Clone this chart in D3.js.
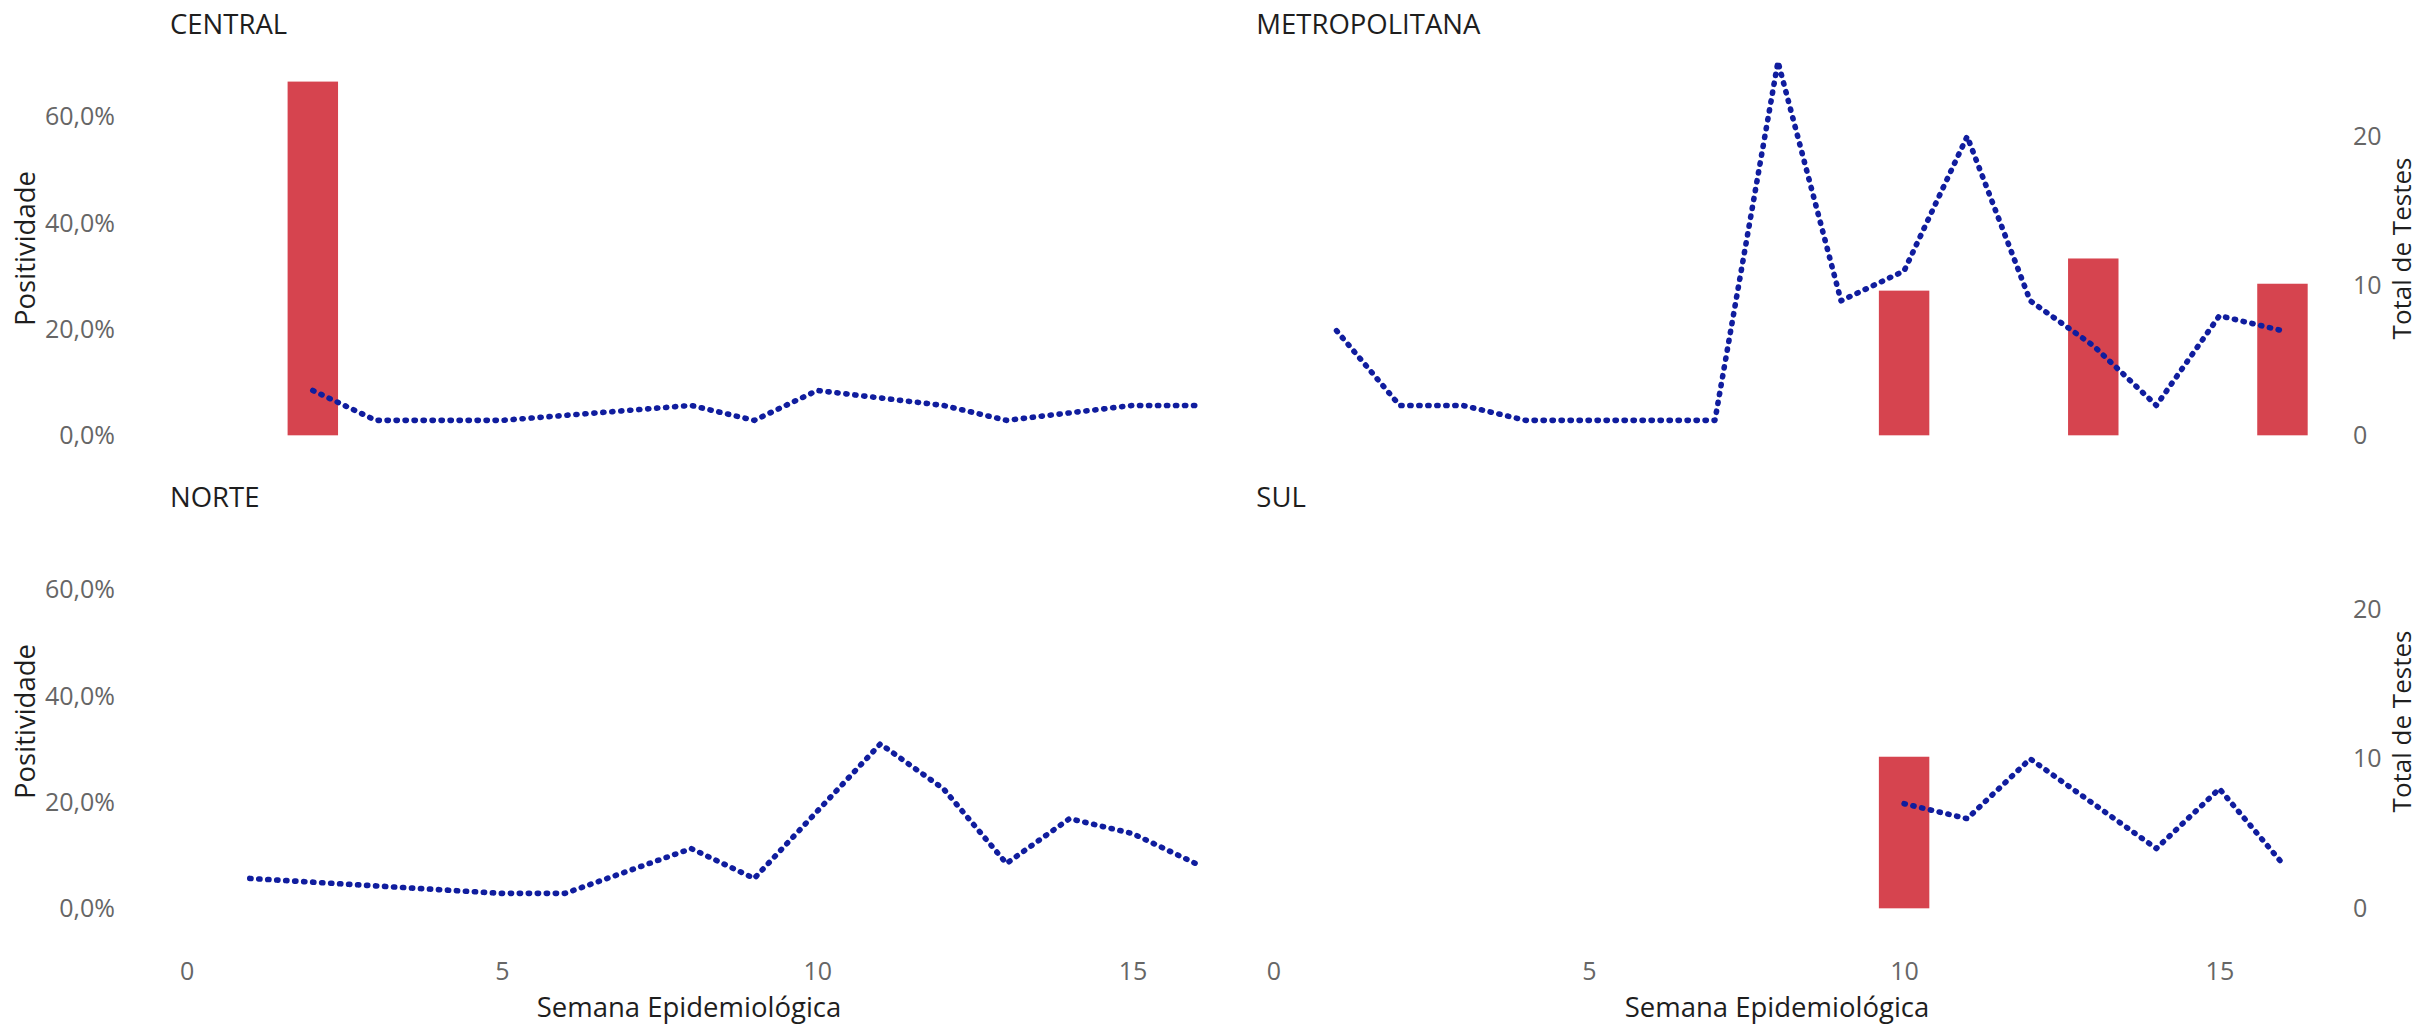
<!DOCTYPE html>
<html><head><meta charset="utf-8">
<script src="https://cdn.jsdelivr.net/npm/d3@7"></script>
<style>
body{margin:0;background:#fff}
svg{display:block}
text{font-family:"Open Sans",sans-serif}
</style>
</head><body>
<svg id="chart" width="2418" height="1025"></svg>
<script>
// ---------- data ----------
const weeks = [1,2,3,4,5,6,7,8,9,10,11,12,13,14,15,16];
const regions = ["CENTRAL","METROPOLITANA","NORTE","SUL"];

// Total de Testes per week (null = no data that week)
const testsCentral = [null,3,1,1,1,null,null,2,1,3,null,2,1,null,2,2];
const testsMetro   = [7,2,2,1,1,1,1,25,9,11,20,9,6,2,8,7];
const testsNorte   = [2,null,null,null,1,1,null,4,2,null,11,8,3,6,5,3];
const testsSul     = [null,null,null,null,null,null,null,null,null,7,6,10,null,4,8,3];

// Positividade per week (share)
const posCentral = [null,0.6667,0,0,0,null,null,0,0,0,null,0,0,null,0,0];
const posMetro   = [0,0,0,0,0,0,0,0,0,0.2727,0,0,0.3333,0,0,0.2857];
const posNorte   = [0,null,null,null,0,0,null,0,0,null,0,0,0,0,0,0];
const posSul     = [null,null,null,null,null,null,null,null,null,0.2857,0,0,null,0,0,0];

const xTicks = [0,5,10,15];
const yTicks = [0,0.2,0.4,0.6];
const testTicks = [0,10,20];
const secFactor = 35.5; // tests = positividade * secFactor

const testsByRegion = [testsCentral, testsMetro, testsNorte, testsSul];
const posByRegion = [posCentral, posMetro, posNorte, posSul];

// ---------- layout ----------
const svg = d3.select("#chart");
const BAR = "#D6444F", LINE = "#101D9E";
const TICK_COL = "#666666", TITLE_COL = "#1e1e1e";
const colOffset = 1086.8, rowOffset = 473;

const fmtLocale = d3.formatLocale({decimal:",", thousands:".", grouping:[3], currency:["R$",""]});
const pct = fmtLocale.format(".1%");

// shared y domain (ggplot-like 5% expansion)
const maxPos = d3.max(posByRegion.flat().filter(v=>v!=null));
const maxTest = d3.max(testsByRegion.flat().filter(v=>v!=null)) / secFactor;
const yMax = Math.max(maxPos, maxTest);
const yDomain = [-0.05*yMax, yMax*1.05];

regions.forEach((name, i) => {
  const col = i % 2, row = Math.floor(i / 2);
  const xs = d3.scaleLinear().domain([0,15]).range([186.7 + col*colOffset, 1132.6 + col*colOffset]);
  const ys = d3.scaleLinear().domain(yDomain).range([454 + row*rowOffset, 43 + row*rowOffset]);
  const yt = d3.scaleLinear().domain(yDomain.map(v => v*secFactor)).range(ys.range());
  const g = svg.append("g");

  const rows = weeks.map((w, k) => ({w, t: testsByRegion[i][k], p: posByRegion[i][k]}));

  // bars
  g.selectAll("rect").data(rows.filter(d => d.p != null && d.p > 0)).join("rect")
    .attr("x", d => xs(d.w - 0.4))
    .attr("width", d => xs(d.w + 0.4) - xs(d.w - 0.4))
    .attr("y", d => ys(d.p))
    .attr("height", d => ys(0) - ys(d.p))
    .attr("fill", BAR);

  // dotted line
  const line = d3.line().x(d => xs(d.w)).y(d => ys(d.t / secFactor));
  g.append("path").datum(rows.filter(d => d.t != null))
    .attr("d", line)
    .attr("fill", "none")
    .attr("stroke", LINE)
    .attr("stroke-width", 5.6)
    .attr("stroke-linecap", "round")
    .attr("stroke-linejoin", "round")
    .attr("stroke-dasharray", "1.2 7.8");

  // strip title
  svg.append("text").attr("x", 170 + col*colOffset - 0.5*col).attr("y", 33.5 + row*rowOffset)
    .attr("font-size", 27.5).attr("fill", TITLE_COL).text(name);

  // left axis
  if (col === 0) {
    const ax = svg.append("g").attr("transform", `translate(115,0)`)
      .call(d3.axisLeft(ys).tickValues(yTicks).tickFormat(pct).tickSize(0).tickPadding(0));
    ax.select(".domain").remove();
    ax.selectAll("text").attr("font-size", 25).attr("fill", TICK_COL).attr("font-family", "Open Sans");
    svg.append("text").attr("transform", `translate(${35},${ys(yDomain[0]/2 + yDomain[1]/2)}) rotate(-90)`)
      .attr("text-anchor", "middle").attr("font-size", 27.5).attr("fill", TITLE_COL).text("Positividade");
  } else {
    const ax = svg.append("g").attr("transform", `translate(2353,0)`)
      .call(d3.axisRight(yt).tickValues(testTicks).tickFormat(d3.format("d")).tickSize(0).tickPadding(0));
    ax.select(".domain").remove();
    ax.selectAll("text").attr("font-size", 25).attr("fill", TICK_COL).attr("font-family", "Open Sans");
    svg.append("text").attr("transform", `translate(${2411},${ys(yDomain[0]/2 + yDomain[1]/2)}) rotate(-90)`)
      .attr("text-anchor", "middle").attr("font-size", 26).attr("fill", TITLE_COL).text("Total de Testes");
  }

  // bottom axis
  if (row === 1) {
    const ax = svg.append("g").attr("transform", `translate(0,962)`)
      .call(d3.axisBottom(xs).tickValues(xTicks).tickFormat(d3.format("d")).tickSize(0).tickPadding(0));
    ax.select(".domain").remove();
    ax.selectAll("text").attr("font-size", 25).attr("fill", TICK_COL).attr("font-family", "Open Sans");
    svg.append("text").attr("x", col === 0 ? 689 : 1777).attr("y", 1017)
      .attr("text-anchor", "middle").attr("font-size", 27.5).attr("fill", TITLE_COL).text("Semana Epidemiológica");
  }
});
</script>
</body></html>
